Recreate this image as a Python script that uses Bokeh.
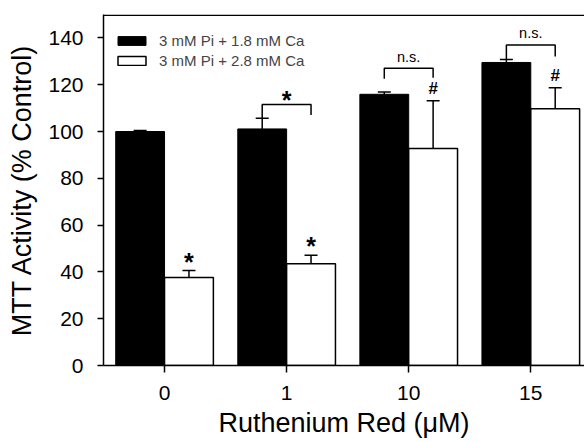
from bokeh.plotting import figure
from bokeh.models import Range1d, FixedTicker, Span, Whisker, ColumnDataSource, Legend, LegendItem
from bokeh.core.properties import value
from bokeh.embed import file_html
from bokeh.resources import INLINE

# ---- data ----
categories = ["0", "1", "10", "15"]
ca18_mean = [100.0, 101.1, 115.9, 129.5]
ca18_err = [0.4, 4.6, 1.0, 1.3]
ca28_mean = [37.6, 43.5, 92.7, 109.7]
ca28_err = [3.0, 3.6, 20.4, 9.0]
series_labels = ["3 mM Pi + 1.8 mM Ca", "3 mM Pi + 2.8 mM Ca"]

# significance markers above the 2.8 mM Ca bars
star_groups = [0, 1]
hash_groups = [2, 3]
# brackets between the two bars of a group
br_group = [1, 2, 3]
br_left = [105.7, 122.5, 131.0]
br_right = [107.0, 123.0, 132.0]
br_top = [111.5, 127.0, 137.0]
br_label = ["*", "n.s.", "n.s."]

FONT = "Liberation Sans"
OFF = 0.2
W = 0.4
idx = list(range(len(categories)))

p = figure(width=584, height=441, x_range=Range1d(-0.5, 3.44), y_range=Range1d(0, 150),
           output_backend="svg", toolbar_location=None,
           min_border_left=103, min_border_right=0, min_border_top=14, min_border_bottom=76)
p.outline_line_color = None
p.xgrid.grid_line_color = None
p.ygrid.grid_line_color = None
p.background_fill_color = "white"

src1 = ColumnDataSource(dict(x=[i - OFF for i in idx], top=ca18_mean,
                             up=[m + e for m, e in zip(ca18_mean, ca18_err)],
                             lo=[m - e for m, e in zip(ca18_mean, ca18_err)]))
src2 = ColumnDataSource(dict(x=[i + OFF for i in idx], top=ca28_mean,
                             up=[m + e for m, e in zip(ca28_mean, ca28_err)],
                             lo=[m - e for m, e in zip(ca28_mean, ca28_err)]))

r1 = p.vbar(x="x", top="top", width=W, bottom=0, source=src1, fill_color="black", line_color="black", line_width=1)
r2 = p.vbar(x="x", top="top", width=W, bottom=0, source=src2, fill_color="white", line_color="black", line_width=1.5)

for s in (src1, src2):
    wk = Whisker(base="x", upper="up", lower="lo", source=s, line_color="black", line_width=1.5)
    for h in (wk.upper_head, wk.lower_head):
        h.size = 13
        h.line_width = 1.5
        h.line_color = "black"
    p.add_layout(wk)

# stars / hashes
p.text(x=[g + OFF for g in star_groups], y=[ca28_mean[g] + ca28_err[g] - 2.2 for g in star_groups],
       text=["*"] * len(star_groups), text_font=value(FONT), text_font_size="25px",
       text_font_style="bold", text_align="center", text_baseline="bottom")
p.text(x=[g + OFF for g in hash_groups], y=[ca28_mean[g] + ca28_err[g] + 1.2 for g in hash_groups],
       text=["#"] * len(hash_groups), text_font=value(FONT), text_font_size="17px",
       text_font_style="bold", text_align="center", text_baseline="bottom")

# brackets
xs, ys = [], []
for g, l, r, t in zip(br_group, br_left, br_right, br_top):
    xs.append([g - OFF, g - OFF, g + OFF, g + OFF])
    ys.append([l, t, t, r])
p.multi_line(xs=xs, ys=ys, line_color="black", line_width=1.5)
star_lbl = [i for i, s in enumerate(br_label) if s == "*"]
ns_lbl = [i for i, s in enumerate(br_label) if s != "*"]
p.text(x=[br_group[i] for i in star_lbl], y=[br_top[i] - 4.0 for i in star_lbl],
       text=[br_label[i] for i in star_lbl], text_font=value(FONT), text_font_size="25px",
       text_font_style="bold", text_align="center", text_baseline="bottom")
p.text(x=[br_group[i] for i in ns_lbl], y=[br_top[i] + 1.5 for i in ns_lbl],
       text=[br_label[i] for i in ns_lbl], text_font=value(FONT), text_font_size="14.5px",
       text_align="center", text_baseline="bottom")

# top frame line
p.add_layout(Span(location=149.7, dimension="width", line_color="black", line_width=1.5))

# axes
for ax in (p.xaxis[0], p.yaxis[0]):
    ax.axis_line_width = 1.5
    ax.major_tick_line_width = 1.5
    ax.minor_tick_line_color = None
    ax.major_tick_in = 0
    ax.major_label_text_font = FONT
    ax.major_label_text_font_size = "21px"
    ax.major_label_text_color = "black"
    ax.axis_label_text_font = FONT
    ax.axis_label_text_font_size = "27px"
    ax.axis_label_text_font_style = "normal"
    ax.axis_label_text_color = "black"

p.xaxis.ticker = FixedTicker(ticks=idx)
p.xaxis.major_label_overrides = {i: c for i, c in zip(idx, categories)}
p.xaxis.major_tick_out = 7
p.xaxis.major_label_standoff = 13
p.xaxis.axis_label = "Ruthenium Red (\u03bcM)"
p.xaxis.axis_label_standoff = 5

p.yaxis.ticker = FixedTicker(ticks=[0, 20, 40, 60, 80, 100, 120, 140])
p.yaxis.major_tick_out = 6
p.yaxis.major_label_standoff = 14
p.yaxis.axis_label = "MTT Activity (% Control)"
p.yaxis.axis_label_standoff = 8

legend = Legend(items=[LegendItem(label=series_labels[0], renderers=[r1]),
                       LegendItem(label=series_labels[1], renderers=[r2])],
                location=(11, 296), margin=0, padding=1, spacing=3,
                glyph_width=35, glyph_height=11, label_standoff=10,
                label_text_font=FONT, label_text_font_size="15px",
                border_line_color=None, background_fill_alpha=0)
p.add_layout(legend)

open("out.html", "w").write(file_html(p, INLINE))
